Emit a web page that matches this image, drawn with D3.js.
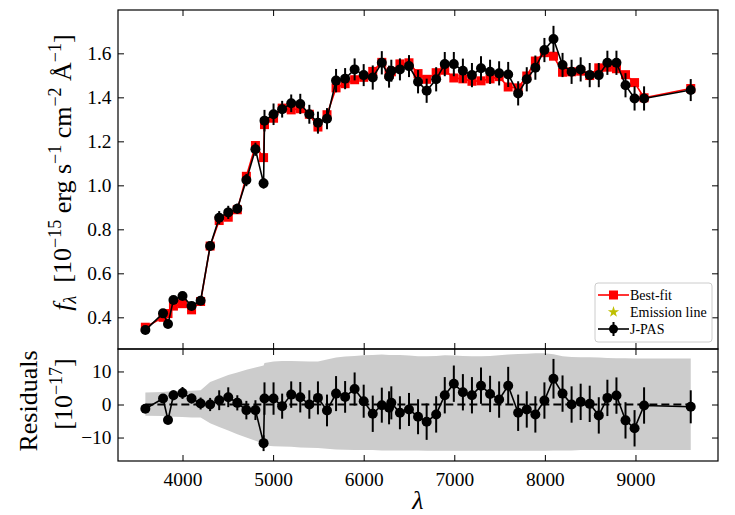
<!DOCTYPE html>
<html><head><meta charset="utf-8">
<script src="https://cdn.jsdelivr.net/npm/d3@7"></script>
<style>
body{margin:0;background:#fff}
svg{display:block}
text{font-family:"Liberation Serif","Times New Roman",serif;fill:#000}
</style>
</head><body>
<svg id="c" width="735" height="515"></svg>
<script>
// ---- data ----
const wavelength = [3590,3785,3840,3900,4000,4100,4200,4305,4405,4505,4605,4705,4805,4895,4905,5005,5100,5200,5300,5400,5495,5595,5695,5795,5900,6000,6100,6200,6280,6305,6400,6500,6600,6695,6800,6895,6995,7095,7195,7295,7395,7495,7595,7705,7800,7895,7995,8095,8195,8295,8395,8495,8595,8690,8790,8890,8990,9095,9610];
const fluxJPAS = [0.342,0.418,0.370,0.479,0.497,0.452,0.475,0.724,0.853,0.877,0.894,1.024,1.164,1.009,1.294,1.323,1.346,1.373,1.370,1.323,1.285,1.303,1.476,1.485,1.527,1.501,1.490,1.557,1.494,1.521,1.527,1.542,1.471,1.430,1.482,1.551,1.551,1.521,1.501,1.532,1.516,1.509,1.504,1.418,1.482,1.535,1.615,1.665,1.547,1.516,1.527,1.501,1.501,1.557,1.557,1.455,1.395,1.395,1.433];
const fluxBestFit = [0.355,0.400,0.417,0.451,0.462,0.434,0.472,0.724,0.840,0.855,0.889,1.041,1.181,1.126,1.276,1.305,1.351,1.343,1.348,1.323,1.265,1.321,1.443,1.462,1.480,1.491,1.518,1.559,1.504,1.516,1.552,1.557,1.508,1.482,1.512,1.523,1.488,1.484,1.473,1.475,1.484,1.494,1.447,1.443,1.497,1.565,1.603,1.587,1.514,1.516,1.519,1.499,1.534,1.537,1.530,1.503,1.467,1.398,1.440];
// errors and residuals in units of 1e-17
const errJPAS = [1.0,1.0,1.2,1.5,1.8,1.5,1.8,2.0,3.0,3.0,2.3,2.8,3.0,2.4,4.9,4.9,3.8,4.0,4.6,4.3,5.0,4.8,5.3,4.8,5.0,5.0,5.5,5.3,5.0,5.0,5.0,5.0,5.3,5.5,5.5,5.5,5.5,5.5,5.5,5.5,5.5,5.5,5.7,5.5,5.5,5.5,5.5,6.0,5.5,5.5,5.5,5.5,5.5,5.5,5.5,5.5,5.5,5.5,5.0];
const residual = [-1.3,1.8,-4.7,2.8,3.5,1.8,0.3,0.0,1.3,2.2,0.5,-1.7,-1.7,-11.7,1.8,1.8,-0.5,3.0,2.2,0.0,2.0,-1.8,3.3,2.3,4.7,1.0,-2.8,-0.2,-1.0,0.5,-2.5,-1.5,-3.7,-5.2,-3.0,2.8,6.3,3.7,2.8,5.7,3.2,1.5,5.7,-2.5,-1.5,-3.0,1.2,7.8,3.3,0.0,0.8,0.2,-3.3,2.0,2.7,-4.8,-7.2,-0.3,-0.7];
const bandUpper = [3.6,3.8,3.9,4.0,4.1,4.2,4.3,6.8,7.9,8.9,9.7,10.5,11.2,11.8,12.6,13.0,13.2,13.2,13.1,13.0,13.0,13.6,14.2,14.5,14.7,14.9,15.0,15.1,15.0,15.0,15.0,14.8,14.6,14.6,14.7,14.9,14.8,14.7,14.6,14.6,14.7,14.9,15.1,15.3,15.4,15.5,15.5,15.2,14.6,14.4,14.3,14.3,14.2,14.1,14.0,14.0,13.9,13.9,13.9];
const bandLower = [-3.4,-3.5,-3.6,-3.7,-3.8,-3.9,-3.9,-5.7,-6.8,-7.9,-9.0,-10.0,-11.0,-11.9,-12.4,-12.6,-12.7,-12.8,-13.0,-13.1,-13.2,-13.4,-13.6,-13.7,-13.8,-13.8,-13.8,-13.9,-13.9,-13.9,-13.9,-13.9,-13.9,-14.0,-14.0,-14.0,-14.0,-14.0,-14.0,-14.0,-14.0,-14.0,-14.0,-14.0,-14.0,-14.0,-14.0,-13.9,-13.9,-13.9,-13.8,-13.8,-13.8,-13.8,-13.8,-13.8,-13.8,-13.8,-13.8];
const xTicks = [4000,5000,6000,7000,8000,9000];
const yTicksTop = [0.4,0.6,0.8,1.0,1.2,1.4,1.6];
const yTicksRes = [-10,0,10];
const legendLabels = ["Best-fit","Emission line","J-PAS"];

// ---- layout ----
const svg = d3.select('#c');
const L = 118, R = 718, T = 10, M = 349, B = 461;
const x = d3.scaleLinear().domain([3288, 9911]).range([L, R]);
const yTop = d3.scaleLinear().domain([0.256, 1.797]).range([M, T]);
const yRes = d3.scaleLinear().domain([-17.1, 16.8]).range([B, M]);
const idx = d3.range(wavelength.length);
const TICK = 6;

// ---- bottom panel ----
const gRes = svg.append('g');
gRes.append('path')
  .attr('d', d3.area().x(i => x(wavelength[i])).y0(i => yRes(bandLower[i])).y1(i => yRes(bandUpper[i]))(idx))
  .attr('fill', '#cccccc');
gRes.append('path')
  .attr('d', d3.line().x(i => x(wavelength[i])).y(() => yRes(0))(idx))
  .attr('fill', 'none').attr('stroke', '#000').attr('stroke-width', 2).attr('stroke-dasharray', '8,4');
gRes.append('path')
  .attr('d', d3.line().x(i => x(wavelength[i])).y(i => yRes(residual[i]))(idx))
  .attr('fill', 'none').attr('stroke', '#000').attr('stroke-width', 1.6);
gRes.selectAll('line.eb').data(idx).enter().append('line')
  .attr('x1', i => x(wavelength[i])).attr('x2', i => x(wavelength[i]))
  .attr('y1', i => yRes(residual[i] - errJPAS[i])).attr('y2', i => yRes(residual[i] + errJPAS[i]))
  .attr('stroke', '#000').attr('stroke-width', 2);
gRes.selectAll('circle').data(idx).enter().append('circle')
  .attr('cx', i => x(wavelength[i])).attr('cy', i => yRes(residual[i])).attr('r', 5).attr('fill', '#000');

// ---- top panel ----
const gTop = svg.append('g');
gTop.append('path')
  .attr('d', d3.line().x(i => x(wavelength[i])).y(i => yTop(fluxBestFit[i]))(idx))
  .attr('fill', 'none').attr('stroke', '#ff0000').attr('stroke-width', 1.6);
const SQ = 9;
gTop.selectAll('rect.sq').data(idx).enter().append('rect')
  .attr('x', i => x(wavelength[i]) - SQ/2).attr('y', i => yTop(fluxBestFit[i]) - SQ/2)
  .attr('width', SQ).attr('height', SQ).attr('fill', '#ff0000');
gTop.append('path')
  .attr('d', d3.line().x(i => x(wavelength[i])).y(i => yTop(fluxJPAS[i]))(idx))
  .attr('fill', 'none').attr('stroke', '#000').attr('stroke-width', 1.6);
gTop.selectAll('line.eb').data(idx).enter().append('line')
  .attr('x1', i => x(wavelength[i])).attr('x2', i => x(wavelength[i]))
  .attr('y1', i => yTop(fluxJPAS[i] - errJPAS[i]/100)).attr('y2', i => yTop(fluxJPAS[i] + errJPAS[i]/100))
  .attr('stroke', '#000').attr('stroke-width', 2);
gTop.selectAll('circle').data(idx).enter().append('circle')
  .attr('cx', i => x(wavelength[i])).attr('cy', i => yTop(fluxJPAS[i])).attr('r', 5).attr('fill', '#000');

// ---- axes ----
function styleAxis(g){
  g.select('.domain').remove();
  g.selectAll('.tick line').attr('stroke', '#000').attr('stroke-width', 1);
  g.selectAll('.tick text').attr('font-size', '19.4px').attr('font-family', '"Liberation Serif",serif').attr('fill', '#000');
}
// top panel
svg.append('g').attr('transform', `translate(0,${M})`)
  .call(d3.axisBottom(x).tickValues(xTicks).tickSizeInner(-TICK).tickSizeOuter(0).tickFormat('')).call(styleAxis);
svg.append('g').attr('transform', `translate(0,${T})`)
  .call(d3.axisTop(x).tickValues(xTicks).tickSizeInner(-TICK).tickSizeOuter(0).tickFormat('')).call(styleAxis);
svg.append('g').attr('transform', `translate(${L},0)`)
  .call(d3.axisLeft(yTop).tickValues(yTicksTop).tickSizeInner(-TICK).tickSizeOuter(0).tickPadding(6.5).tickFormat(d3.format('.1f'))).call(styleAxis);
svg.append('g').attr('transform', `translate(${R},0)`)
  .call(d3.axisRight(yTop).tickValues(yTicksTop).tickSizeInner(-TICK).tickSizeOuter(0).tickFormat('')).call(styleAxis);
// bottom panel
svg.append('g').attr('transform', `translate(0,${B})`)
  .call(d3.axisBottom(x).tickValues(xTicks).tickSizeInner(-TICK).tickSizeOuter(0).tickPadding(11).tickFormat(d3.format('d'))).call(styleAxis);
svg.append('g').attr('transform', `translate(0,${M})`)
  .call(d3.axisTop(x).tickValues(xTicks).tickSizeInner(-TICK).tickSizeOuter(0).tickFormat('')).call(styleAxis);
svg.append('g').attr('transform', `translate(${L},0)`)
  .call(d3.axisLeft(yRes).tickValues(yTicksRes).tickSizeInner(-TICK).tickSizeOuter(0).tickPadding(6.5).tickFormat(d3.format('d'))).call(styleAxis);
svg.append('g').attr('transform', `translate(${R},0)`)
  .call(d3.axisRight(yRes).tickValues(yTicksRes).tickSizeInner(-TICK).tickSizeOuter(0).tickFormat('')).call(styleAxis);

// frames
svg.append('rect').attr('x', L).attr('y', T).attr('width', R-L).attr('height', M-T)
  .attr('fill', 'none').attr('stroke', '#000').attr('stroke-width', 1.2);
svg.append('rect').attr('x', L).attr('y', M).attr('width', R-L).attr('height', B-M)
  .attr('fill', 'none').attr('stroke', '#000').attr('stroke-width', 1.2);

// ---- legend ----
const lg = svg.append('g');
lg.append('rect').attr('x', 595).attr('y', 283).attr('width', 117).attr('height', 59).attr('rx', 3)
  .attr('fill', '#fff').attr('fill-opacity', 0.8).attr('stroke', '#cccccc').attr('stroke-width', 1);
const ly = [295, 312, 329];
const lx0 = 598, lx1 = 629, lxc = 613.5;
lg.append('line').attr('x1', lx0).attr('x2', lx1).attr('y1', ly[0]).attr('y2', ly[0]).attr('stroke', '#ff0000').attr('stroke-width', 1.6);
lg.append('rect').attr('x', lxc - SQ/2).attr('y', ly[0] - SQ/2).attr('width', SQ).attr('height', SQ).attr('fill', '#ff0000');
lg.append('path').attr('transform', `translate(${lxc},${ly[1]})`).attr('d', d3.symbol(d3.symbolStar, 40)()).attr('fill', '#bfbf00');
lg.append('line').attr('x1', lx0).attr('x2', lx1).attr('y1', ly[2]).attr('y2', ly[2]).attr('stroke', '#000').attr('stroke-width', 1.6);
lg.append('line').attr('x1', lxc).attr('x2', lxc).attr('y1', ly[2] - 7).attr('y2', ly[2] + 7).attr('stroke', '#000').attr('stroke-width', 2);
lg.append('circle').attr('cx', lxc).attr('cy', ly[2]).attr('r', 4.5).attr('fill', '#000');
legendLabels.forEach((t, k) => {
  lg.append('text').attr('x', 630).attr('y', ly[k] + 4.8).attr('font-size', '14px').text(t);
});

// ---- axis labels ----
const FS = 26, SS = 18;
const yl = svg.append('text').attr('transform', 'translate(71,172.5) rotate(-90)')
  .attr('text-anchor', 'middle').attr('font-size', FS + 'px');
yl.append('tspan').attr('font-style', 'italic').text('f');
yl.append('tspan').attr('font-style', 'italic').attr('font-size', SS + 'px').attr('dy', 5).text('λ');
yl.append('tspan').attr('dy', -5).text('\u00a0\u00a0[10');
yl.append('tspan').attr('font-size', SS + 'px').attr('dy', -10).text('\u221215');
yl.append('tspan').attr('dy', 10).text(' erg s');
yl.append('tspan').attr('font-size', SS + 'px').attr('dy', -10).text('\u22121');
yl.append('tspan').attr('dy', 10).text(' cm');
yl.append('tspan').attr('font-size', SS + 'px').attr('dy', -10).text('\u22122');
yl.append('tspan').attr('dy', 10).text(' Å');
yl.append('tspan').attr('font-size', SS + 'px').attr('dy', -10).text('\u22121');
yl.append('tspan').attr('dy', 10).text(']');

svg.append('text').attr('transform', 'translate(36.7,401) rotate(-90)')
  .attr('text-anchor', 'middle').attr('font-size', FS + 'px').text('Residuals');
const rl = svg.append('text').attr('transform', 'translate(71.7,394) rotate(-90)')
  .attr('text-anchor', 'middle').attr('font-size', FS + 'px');
rl.append('tspan').text('[10');
rl.append('tspan').attr('font-size', SS + 'px').attr('dy', -10).text('\u221217');
rl.append('tspan').attr('dy', 10).text(']');

svg.append('text').attr('x', (L + R) / 2).attr('y', 509).attr('text-anchor', 'middle')
  .attr('font-size', FS + 'px').attr('font-style', 'italic').text('λ');
</script>
</body></html>
